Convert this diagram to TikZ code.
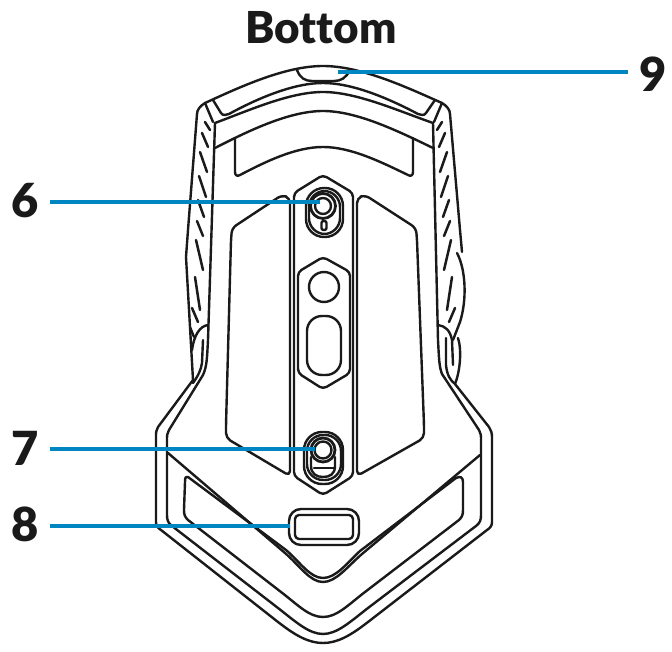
\documentclass[tikz,border=0pt]{standalone}
\usepackage{fontspec}
\setmainfont{Lato}[UprightFont=* Black,Ligatures=NoCommon]
\definecolor{leader}{HTML}{0085C3}
\definecolor{ink}{HTML}{1A1A1A}
\tikzset{
  ln/.style={draw=ink,line width=2.4pt,line join=round,line cap=round},
  hat/.style={draw=ink,line width=2.5pt,line cap=round},
  lead/.style={draw=leader,line width=3.4pt},
  num/.style={font=\fontsize{47}{47}\selectfont,text=ink,inner sep=0pt,anchor=center},
}
\newcommand{\mouseside}{%
  % hatches
  \foreach \a/\b/\c/\d in {205/122/210/130,202/133/208/147,200/152/207/172,199/176/206/197,198/200/204/217,197/221/203/236,196/240/203/270,195/277/200/310,192/308/198/322}
    \draw[hat] (\a,\b) -- (\c,\d);
  % corner
  \draw[ln] (205,103) -- (213,122);
}
\begin{document}
\begin{tikzpicture}[x=1pt,y=-1pt]
\useasboundingbox (0,0) rectangle (672,652);
\fill[white] (0,0) rectangle (672,652);
\node[font=\fontsize{44}{44}\selectfont,text=ink,inner sep=0pt] (title) at (321,28) {Bottom};
% outer silhouette
\draw[ln] (197,114) .. controls (197,110) and (200,106) .. (205,103)
  .. controls (240,87) and (285,66) .. (323,66) .. controls (361,66) and (406,87) .. (442,103)
  .. controls (447,106) and (450,110) .. (450,114) -- (460,230) -- (462,252);
\draw[ln] (197,114) -- (188,230) -- (186,257) -- (190,327) -- (193,380) -- (158,427)
  .. controls (156,430) and (156,433) .. (156,437) -- (156,522)
  .. controls (156,526) and (158,528) .. (161,530) -- (278,622)
  .. controls (296,636) and (309,643) .. (323,643) .. controls (337,643) and (350,636) .. (368,622)
  -- (487,530) .. controls (490,528) and (492,526) .. (492,522) -- (492,437)
  .. controls (492,433) and (491,430) .. (489,427) -- (455,384);
% bump on right
\draw[ln] (457,253) .. controls (466,270) and (467,300) .. (460,322) -- (453,340);
% second contour
\draw[ln] (215,123) -- (208,340) .. controls (207,358) and (207,366) .. (203,375) -- (169,430)
  .. controls (167,433) and (167,436) .. (167,440) -- (167,515)
  .. controls (167,520) and (168,523) .. (172,526) -- (278,608)
  .. controls (296,622) and (309,634) .. (323,634) .. controls (337,634) and (350,622) .. (368,608)
  -- (476,526) .. controls (480,523) and (481,520) .. (481,515) -- (481,440)
  .. controls (481,436) and (481,433) .. (479,430) -- (442,374)
  .. controls (439,366) and (439,358) .. (438,340) -- (433,123);
% left junction
\draw[ln] (208,325) .. controls (200,326) and (194,335) .. (192,350);
\draw[ln] (203,340) -- (202,363) .. controls (201,370) and (198,376) .. (193,383);
\draw[ln] (190,327) -- (194,337);
% right junction
\draw[ln] (438,325) .. controls (445,326) and (450,330) .. (452,340) -- (453,365);
\draw[ln] (446,338) -- (446,365) .. controls (447,375) and (450,380) .. (455,384);
\draw[ln] (455,384) .. controls (460,372) and (462,350) .. (458,338);
% top arcs
\draw[ln] (213,100) -- (221,113) .. controls (223,116) and (226,115) .. (229,114)
  .. controls (260,97) and (295,83) .. (323,83) .. controls (351,83) and (386,97) .. (418,114)
  .. controls (421,115) and (424,116) .. (426,113) -- (435,100);
\draw[ln] (215,123) .. controls (250,110) and (290,92) .. (323,92) .. controls (356,92) and (396,110) .. (433,123);
\draw[ln] (215,148) .. controls (250,130) and (290,111) .. (323,111) .. controls (356,111) and (396,130) .. (433,148);
\draw[ln] (235,138) -- (235,172) .. controls (235,175) and (237,177) .. (240,175)
  .. controls (265,162) and (295,147) .. (323,147) .. controls (351,147) and (381,162) .. (408,175)
  .. controls (411,177) and (413,175) .. (413,172) -- (413,138);
% sides mirrored
\mouseside
\begin{scope}[shift={(647,0)},xscale=-1]
  \mouseside
\end{scope}
% button 9
\draw[ln] (297,70) .. controls (300,78) and (305,81) .. (312,81) -- (334,81) .. controls (341,81) and (346,78) .. (350,70);
% pads
\draw[ln,rounded corners=5pt] (231,240) -- (232,228) -- (282,195) -- (290,198) -- (290,476) -- (226,438) -- (226,425) -- cycle;
\draw[ln,rounded corners=5pt] (417,240) -- (416,228) -- (365,195) -- (357,198) -- (357,476) -- (424,438) -- (424,425) -- cycle;
% strip
\draw[ln,rounded corners=4pt] (294,476) -- (294,193) -- (323,175) -- (353,193) -- (353,476) -- (323,495) -- cycle;
\draw[ln,rounded corners=4pt] (298,373) -- (298,272) -- (323,257) -- (350,272) -- (350,373) -- (323,389) -- cycle;
\draw[ln] (324,287) circle[radius=15];
\draw[ln,rounded corners=15pt] (307,316) rectangle (341,375);
% sensor 6
\draw[ln,rounded corners=18pt] (306,188) rectangle (343,237);
\draw[ln,rounded corners=16pt] (309,191) rectangle (340,234);
\draw[ln,line width=2.8pt] (323,206) circle[radius=12.5];
\draw[ln] (323,206) circle[radius=8];
\draw[ln,rounded corners=2pt] (321.5,221) rectangle (326.5,230);
% sensor 7
\draw[ln,rounded corners=18pt] (304,432) rectangle (343,484);
\draw[ln,rounded corners=16pt] (307,435) rectangle (341,480);
\draw[ln,line width=2.8pt] (323,450) circle[radius=12];
\draw[ln] (323,450) circle[radius=8.5];
\draw[ln] (311,457) -- (311,466) .. controls (311,474) and (317,477) .. (323,477) .. controls (330,477) and (335,474) .. (335,466) -- (335,457);
\draw[ln] (314,468) -- (334,468);
% upper V
\draw[ln] (168,453) -- (285,553) .. controls (300,566) and (310,582) .. (323,582) .. controls (336,582) and (347,567) .. (362,554) -- (480,455);
% bottom panel
\draw[ln] (188,477) -- (286,550) .. controls (300,562) and (310,578) .. (323,578) .. controls (336,578) and (347,563) .. (360,551)
  -- (456,478) .. controls (460,476) and (463,477) .. (463,482) -- (463,510) .. controls (463,515) and (462,517) .. (459,520)
  -- (365,592) .. controls (348,605) and (337,617) .. (323,617) .. controls (309,617) and (298,605) .. (281,592)
  -- (188,520) .. controls (185,517) and (184,515) .. (184,510) -- (185,482) .. controls (185,477) and (186,476) .. (188,477) -- cycle;
% button 8
\draw[ln,rounded corners=12pt] (289,509) rectangle (359,545);
\draw[ln,rounded corners=4pt] (295,515) rectangle (353,539);
% labels and leaders
\node[num] (n9) at (653,74) {9};
\node[num] (n6) at (25,201) {6};
\node[num] (n7) at (25,448) {7};
\node[num] (n8) at (25,524) {8};
\coordinate (t9) at (338,72);
\coordinate (t6) at (320,202);
\coordinate (t7) at (315,449);
\coordinate (t8) at (290,526);
\draw[lead] (t9) -- (628,72);
\draw[lead] (t6) -- (50,202);
\draw[lead] (t7) -- (50,449);
\draw[lead] (t8) -- (50,526);
\end{tikzpicture}
\end{document}
